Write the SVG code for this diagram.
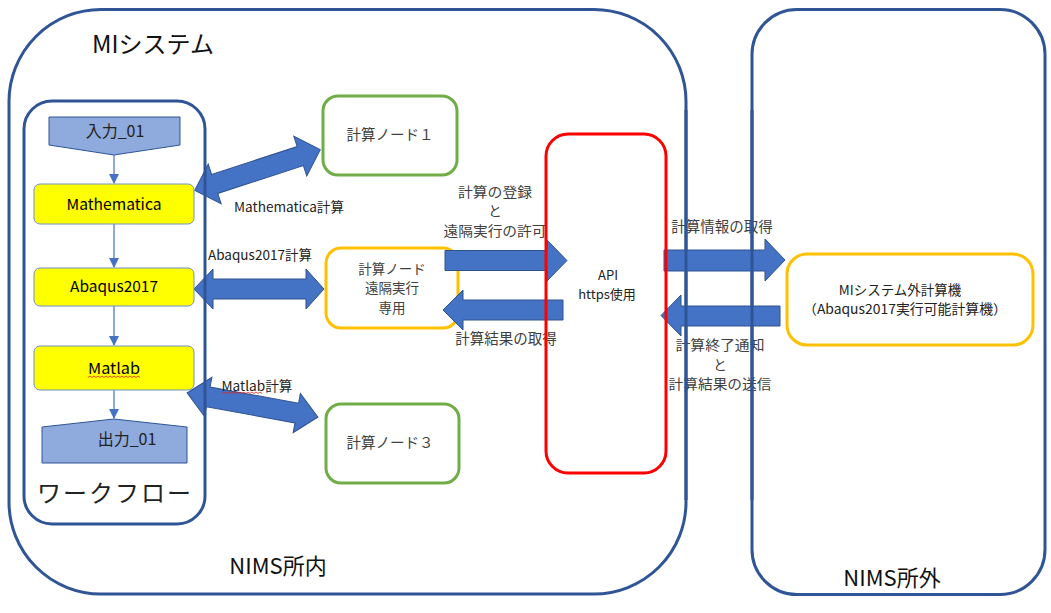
<svg xmlns="http://www.w3.org/2000/svg" width="1051" height="613" viewBox="0 0 1051 613">
<defs>
<style>
text{font-family:"Noto Sans CJK JP","Noto Sans",sans-serif;text-anchor:middle}
.lbl{font-size:14px;fill:#404040}
.ml{font-size:13.5px;fill:#404040}
.title{fill:#111;font-size:24px}
.cont{fill:none;stroke:#2F5597;stroke-width:3}
.green{fill:#fff;stroke:#70AD47;stroke-width:3}
.orange{fill:#fff;stroke:#FFC000;stroke-width:3}
.yel{fill:#FFFF00;stroke:#6F8FC9;stroke-width:1}
.io{fill:#8FAADC;stroke:#2F5597;stroke-width:1}
.blk{fill:#4472C4;stroke:#2F528F;stroke-width:1}
.thin{stroke:#4472C4;stroke-width:1.2;fill:none;marker-end:url(#ah)}
.sq{fill:none;stroke:#E02020;stroke-width:0.8}
.box{font-size:15px;fill:#000}
</style>
<marker id="ah" markerWidth="10" markerHeight="10" refX="9" refY="5" orient="auto" markerUnits="userSpaceOnUse">
<path d="M0,0 L10,5 L0,10 Z" fill="#4472C4"/>
</marker>
</defs>
<rect width="1051" height="613" fill="#fff"/>

<g id="mi-system">
<rect class="cont" x="9" y="9.5" width="677" height="584.5" rx="92" ry="92" fill="#fff"/>
<text class="title" x="153" y="53">MIシステム</text>
<text class="title" x="278" y="574" style="font-size:22px">NIMS所内</text>
</g>
<g id="nims-outside">
<rect class="cont" x="752" y="9.5" width="293" height="585" rx="45" ry="45" fill="#fff"/>
<text class="title" x="892" y="586" style="font-size:22px">NIMS所外</text>
</g>

<g id="node1">
<rect class="green" x="323" y="96" width="134" height="79" rx="15"/>
<text class="lbl" x="390" y="140" style="font-size:14.5px">計算ノード１</text>
</g>
<g id="node2">
<rect class="orange" x="326" y="248" width="132" height="80" rx="15"/>
<text class="ml" x="392" y="273.5">計算ノード</text>
<text class="ml" x="392" y="293">遠隔実行</text>
<text class="ml" x="392" y="312.5">専用</text>
</g>
<g id="node3">
<rect class="green" x="326" y="404" width="133" height="79" rx="15"/>
<text class="lbl" x="390" y="448" style="font-size:14.5px">計算ノード３</text>
</g>
<g id="external-computer">
<rect class="orange" x="787" y="254" width="246" height="91" rx="20"/>
<text class="ml" x="900" y="294.5" style="fill:#222">MIシステム外計算機</text>
<text class="ml" x="905" y="314" style="fill:#222" textLength="204" lengthAdjust="spacingAndGlyphs">（Abaqus2017実行可能計算機）</text>
</g>

<g id="connectors">
<path class="thin" d="M114,155 L114,183"/>
<path class="thin" d="M114,224 L114,267"/>
<path class="thin" d="M114,306 L114,345"/>
<path class="thin" d="M114,390 L114,418"/>
<path class="blk" transform="translate(257.5,170) rotate(-18)" d="M-66,0 L-45,-21 L-45,-10 L45,-10 L45,-21 L66,0 L45,21 L45,10 L-45,10 L-45,21 Z"/>
<path class="blk" d="M194,289 L213,269 L213,279 L306,279 L306,269 L324,289 L306,309 L306,299 L213,299 L213,309 Z"/>
<path class="blk" transform="translate(252.5,405) rotate(10.4)" d="M-66.5,0 L-45,-20 L-45,-10 L45,-10 L45,-20 L66.5,0 L45,20 L45,10 L-45,10 L-45,20 Z"/>
<path class="blk" d="M445,250.5 L547,250.5 L547,240 L567,260.5 L547,281 L547,270.5 L445,270.5 Z"/>
<path class="blk" d="M563,300 L463,300 L463,290 L443,310 L463,330 L463,320 L563,320 Z"/>
<path class="blk" d="M664,250 L765,250 L765,239 L785,260 L765,281 L765,271 L664,271 Z"/>
<path class="blk" d="M780,306 L681,306 L681,295 L661,315.5 L681,336 L681,326 L780,326 Z"/>
<text class="lbl" x="289" y="211.5" style="font-size:13.5px;fill:#222" textLength="110" lengthAdjust="spacingAndGlyphs">Mathematica計算</text>
<text class="lbl" x="260" y="259.5" style="font-size:13.5px;fill:#222" textLength="104" lengthAdjust="spacingAndGlyphs">Abaqus2017計算</text>
<text class="lbl" x="257" y="390.5" style="font-size:13.5px;fill:#222" textLength="71" lengthAdjust="spacingAndGlyphs">Matlab計算</text>
<path class="sq" d="M222,393.5 l2,-1.5 l2,1.5 l2,-1.5 l2,1.5 l2,-1.5 l2,1.5 l2,-1.5 l2,1.5 l2,-1.5 l2,1.5 l2,-1.5 l2,1.5 l2,-1.5 l2,1.5 l2,-1.5 l2,1.5 l2,-1.5 l2,1.5 l2,-1.5 l2,1.5"/>
<text class="ml" x="495" y="196.5" textLength="74" lengthAdjust="spacingAndGlyphs">計算の登録</text>
<text class="ml" x="495" y="216">と</text>
<text class="ml" x="495" y="235.5" textLength="103" lengthAdjust="spacingAndGlyphs">遠隔実行の許可</text>
<text class="lbl" x="506" y="344" style="font-size:14.5px">計算結果の取得</text>
<text class="lbl" x="722" y="232" style="font-size:14.5px">計算情報の取得</text>
<text class="ml" x="720" y="350" textLength="89" lengthAdjust="spacingAndGlyphs">計算終了通知</text>
<text class="ml" x="720" y="369.5">と</text>
<text class="ml" x="720" y="389" textLength="103" lengthAdjust="spacingAndGlyphs">計算結果の送信</text>
</g>

<g id="api">
<rect x="546" y="134" width="120" height="339" rx="22" fill="none" stroke="#FF0000" stroke-width="3"/>
<text class="lbl" x="608" y="280" style="font-size:13px;fill:#222">API</text>
<text class="lbl" x="607" y="299" style="font-size:13px;fill:#222">https使用</text>
</g>

<g id="container-borders">
<path d="M686,110 L686,500" class="cont"/>
<path d="M752,110 L752,500" class="cont"/>
</g>

<g id="workflow">
<rect class="cont" x="24" y="101" width="181" height="423" rx="28"/>
<text class="title" x="114" y="502" textLength="154" lengthAdjust="spacing" style="font-size:24px;fill:#222">ワークフロー</text>
</g>
<g id="input01">
<path class="io" d="M49,117 L180,117 L180,145 L114,155 L49,145 Z"/>
<text class="box" x="115" y="137" style="font-size:16px;fill:#222">入力_01</text>
</g>
<g id="mathematica">
<rect class="yel" x="34" y="184" width="160" height="40" rx="6"/>
<text class="box" x="114" y="210" textLength="95" lengthAdjust="spacingAndGlyphs">Mathematica</text>
</g>
<g id="abaqus">
<rect class="yel" x="34" y="268" width="160" height="38" rx="6"/>
<text class="box" x="114" y="292" textLength="88" lengthAdjust="spacingAndGlyphs">Abaqus2017</text>
</g>
<g id="matlab">
<rect class="yel" x="34" y="346" width="160" height="44" rx="6"/>
<text class="box" x="114" y="374" textLength="52" lengthAdjust="spacingAndGlyphs">Matlab</text>
<path class="sq" d="M88,377.5 l2,-1.5 l2,1.5 l2,-1.5 l2,1.5 l2,-1.5 l2,1.5 l2,-1.5 l2,1.5 l2,-1.5 l2,1.5 l2,-1.5 l2,1.5 l2,-1.5 l2,1.5 l2,-1.5 l2,1.5 l2,-1.5 l2,1.5 l2,-1.5 l2,1.5 l2,-1.5 l2,1.5 l2,-1.5 l2,1.5 l2,-1.5 l2,1.5"/>
</g>
<g id="output01">
<path class="io" d="M42,427 L114,419 L187,427 L187,463 L42,463 Z"/>
<text class="box" x="127" y="445" style="font-size:16px;fill:#222">出力_01</text>
</g>
</svg>
